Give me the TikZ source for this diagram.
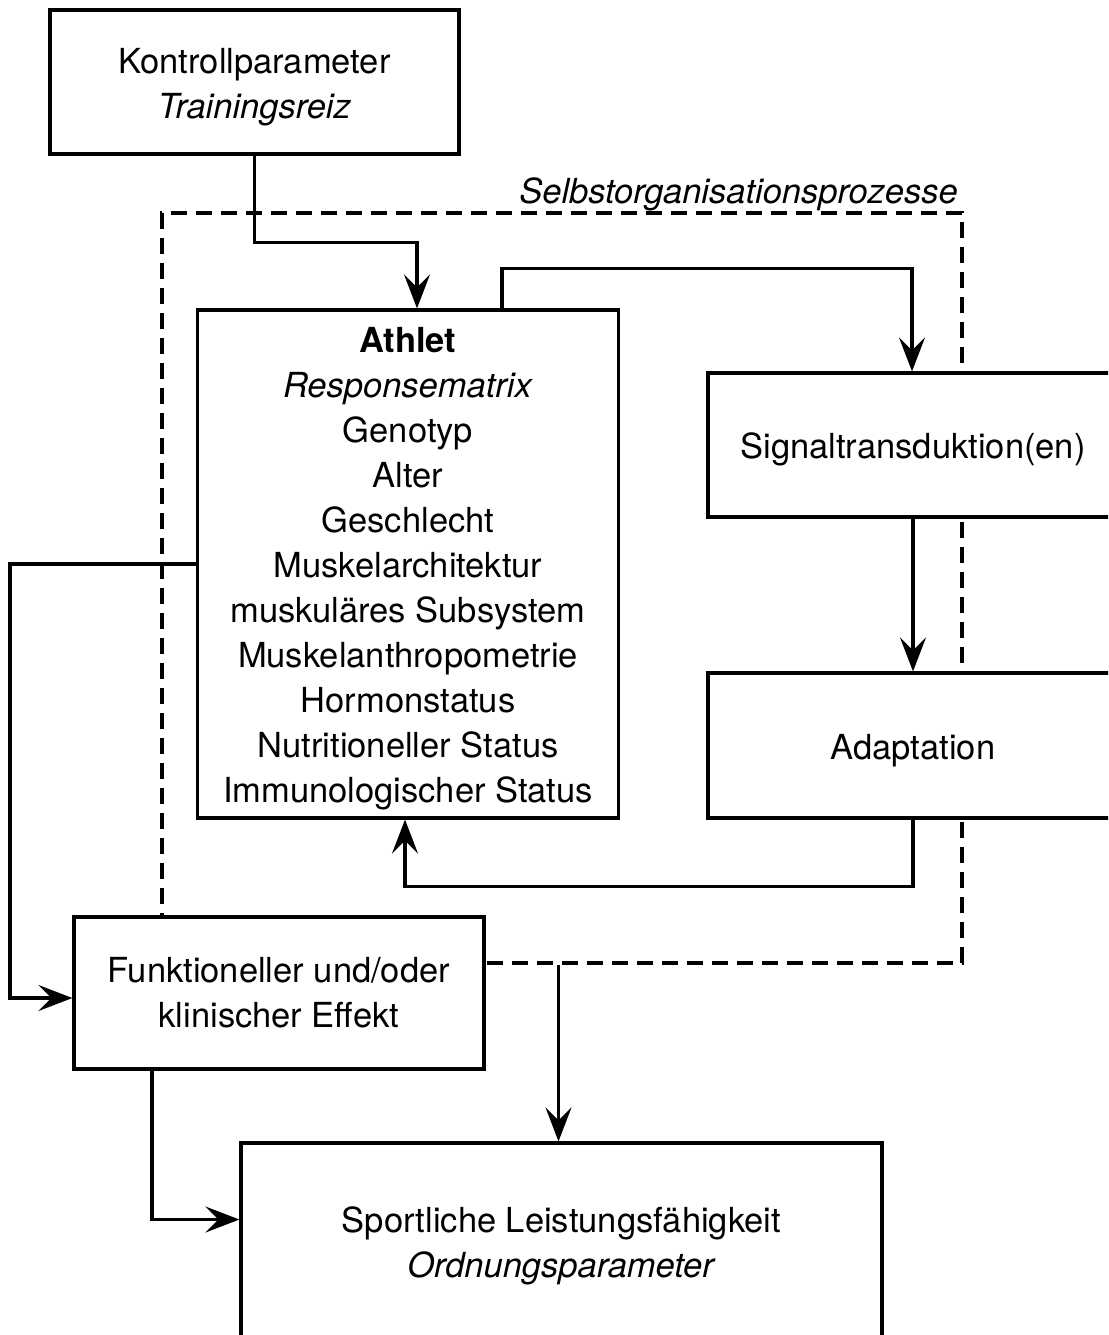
\documentclass[tikz,border=0pt]{standalone}
\usepackage{fontspec}
\setmainfont{TeX Gyre Heros}
\usetikzlibrary{arrows.meta,calc}
\newcommand\firstlinestrut{\rule{0pt}{35pt}}
\begin{document}
\begin{tikzpicture}[x=1pt,y=-1pt,
  box/.style={draw,line width=3.2pt,fill=white,align=center,inner sep=0pt,font=\fontsize{34.5}{45}\selectfont},
  arr/.style={line width=3.2pt,-{Stealth[length=34pt,width=26pt,inset=13pt]}},
  dsh/.style={draw,line width=3.2pt,dash pattern=on 16pt off 9pt,inner sep=0pt}]
\clip (0,0) rectangle (1108,1335);
\fill[white] (0,0) rectangle (1108,1335);
% dashed region
\node[dsh,minimum width=800pt,minimum height=750pt] (selforg) at (562,588) {};
\node[anchor=base east,inner sep=0pt,font=\fontsize{34.5}{45}\selectfont\itshape] (sollabel) at (958,203) {Selbstorganisationsprozesse};
% boxes
\node[box,minimum width=409pt,minimum height=144pt] (kp) at (254.5,82) {\firstlinestrut Kontrollparameter\\\textit{Trainingsreiz}};
\node[box,minimum width=421pt,minimum height=508pt] (athlet) at (408,564) {\firstlinestrut\textbf{Athlet}\\\textit{Responsematrix}\\Genotyp\\Alter\\Geschlecht\\Muskelarchitektur\\muskuläres Subsystem\\Muskelanthropometrie\\Hormonstatus\\Nutritioneller Status\\Immunologischer Status};
\node[box,minimum width=410pt,minimum height=144pt] (sig) at (913,445) {\firstlinestrut Signaltransduktion(en)};
\node[box,minimum width=410pt,minimum height=145pt] (ad) at (913,745.5) {\firstlinestrut Adaptation};
\node[box,minimum width=410pt,minimum height=152pt] (funkt) at (279,993) {Funktioneller und/oder\\klinischer Effekt};
\node[box,minimum width=641pt,minimum height=197pt] (sport) at (561.5,1241.5) {\firstlinestrut Sportliche Leistungsfähigkeit\\\textit{Ordnungsparameter}};
% connectors
\draw[arr] (kp.south) -- ++(0,87) -| ([xshift=9pt]athlet.north);
\draw[arr] ([xshift=94pt]athlet.north) -- ++(0,-40) -| ([xshift=-1pt]sig.north);
\draw[arr] (sig.south) -- (ad.north);
\draw[arr] (ad.south) -- ++(0,67) -| ([xshift=-3pt]athlet.south);
\draw[arr] (athlet.west) -- ++(-186,0) |- ([yshift=-5pt]funkt.west);
\draw[arr] ([xshift=-127pt]funkt.south) |- ([yshift=22pt]sport.west);
\draw[arr] ([xshift=-3pt]sport.north |- selforg.south) -- ([xshift=-3pt]sport.north);
\end{tikzpicture}
\end{document}
